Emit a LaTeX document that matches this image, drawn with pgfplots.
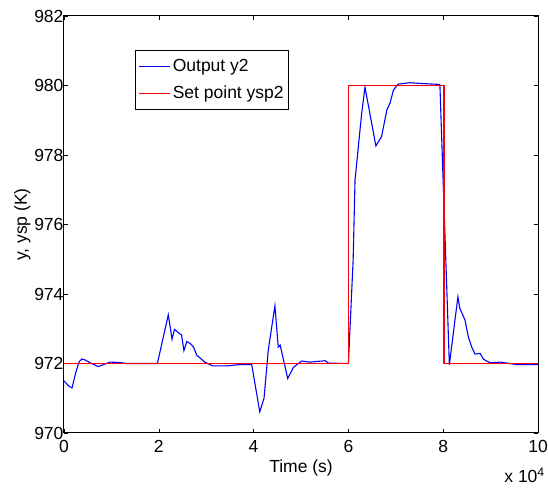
\documentclass[border=0pt]{standalone}
\usepackage{fontspec}
\setmainfont{Liberation Sans}
\usepackage{pgfplots}
\pgfplotsset{compat=1.18}
\newcommand{\chartfont}{\fontsize{17.5}{20}\selectfont}
\pgfplotsset{
  legend image code/.code={\draw[#1] (0pt,0pt) -- (31pt,0pt);},
}
\begin{document}
\begin{tikzpicture}
\begin{axis}[
  scale only axis, width=474pt, height=417pt,
  xmin=0, xmax=10, ymin=970, ymax=982,
  xtick={0,2,...,10}, ytick={970,972,...,982},
  tick align=inside, major tick length=4pt,
  axis line style={line width=1pt},
  tick style={black, line width=0.5pt},
  tick label style={font=\chartfont},
  xticklabel style={yshift=-4pt},
  yticklabel style={xshift=3pt},
  /pgf/number format/assume math mode=true,
  /pgf/number format/1000 sep={},
  legend style={at={(0.15,0.918)}, anchor=north west, draw=black, line width=0.6pt,
    font=\chartfont, inner xsep=3pt, inner ysep=7pt,
    row sep=9pt, nodes={inner sep=2pt}},
  legend cell align=left,
]
\coordinate (bl) at (rel axis cs:0,0);
\coordinate (tr) at (rel axis cs:1,1);
\coordinate (br) at (rel axis cs:1,0);
\coordinate (lm) at (rel axis cs:0,0.5);
\coordinate (bm) at (rel axis cs:0.5,0);
\addplot[color={rgb,1:red,0;green,0;blue,1}, line width=1.1pt] coordinates {
(0,971.5) (0.04,971.44) (0.1,971.35) (0.17,971.3) (0.25,971.75) (0.32,972.05) (0.38,972.13) (0.45,972.1) (0.55,972.02) (0.63,971.97) (0.72,971.91) (0.8,971.95) (0.97,972.04) (1.15,972.03) (1.32,972.0) (1.97,972.0) (2.2,973.40) (2.28,972.70) (2.33,972.98) (2.45,972.85) (2.48,972.82) (2.53,972.37) (2.59,972.63) (2.66,972.58) (2.73,972.48) (2.80,972.24) (2.97,972.04) (3.14,971.93) (3.43,971.93) (3.71,971.97) (3.96,971.97) (4.13,970.61) (4.22,971.0) (4.31,972.39) (4.45,973.66) (4.52,972.47) (4.56,972.53) (4.72,971.57) (4.84,971.89) (5.01,972.07) (5.19,972.04) (5.35,972.06) (5.51,972.08) (5.58,972.01) (6.0,972.0) (6.10,974.98) (6.14,977.28) (6.28,979.2) (6.35,979.95) (6.58,978.26) (6.70,978.53) (6.81,979.29) (6.88,979.5) (6.95,979.87) (7.05,980.04) (7.30,980.08) (7.51,980.06) (7.93,980.03) (8.13,971.96) (8.31,973.92) (8.35,973.59) (8.46,973.25) (8.53,972.77) (8.60,972.48) (8.67,972.27) (8.78,972.29) (8.85,972.12) (8.99,972.02) (9.2,972.04) (9.55,971.97) (10,971.97)
};
\addlegendentry{Output y2}
\addplot[color={rgb,1:red,1;green,0;blue,0}, line width=1.4pt] coordinates {
(0,972) (6,972) (6,980) (8.02,980) (8.02,972) (10,972)
};
\addlegendentry{Set point ysp2}
\end{axis}
\node[anchor=base east, inner sep=0pt, font=\chartfont] at ([shift={(7pt,-50pt)}]br) {x 10\textsuperscript{4}};
\node[anchor=base, inner sep=0pt, font=\chartfont] at ([yshift=-40pt]bm) {Time (s)};
\node[anchor=base, rotate=90, inner sep=0pt, font=\chartfont] at ([xshift=-37pt]lm) {y, ysp (K)};
\pgfresetboundingbox
\path[use as bounding box] ([shift={(-64pt,-56pt)}]bl) rectangle ([shift={(10pt,16pt)}]tr);
\end{tikzpicture}
\end{document}
